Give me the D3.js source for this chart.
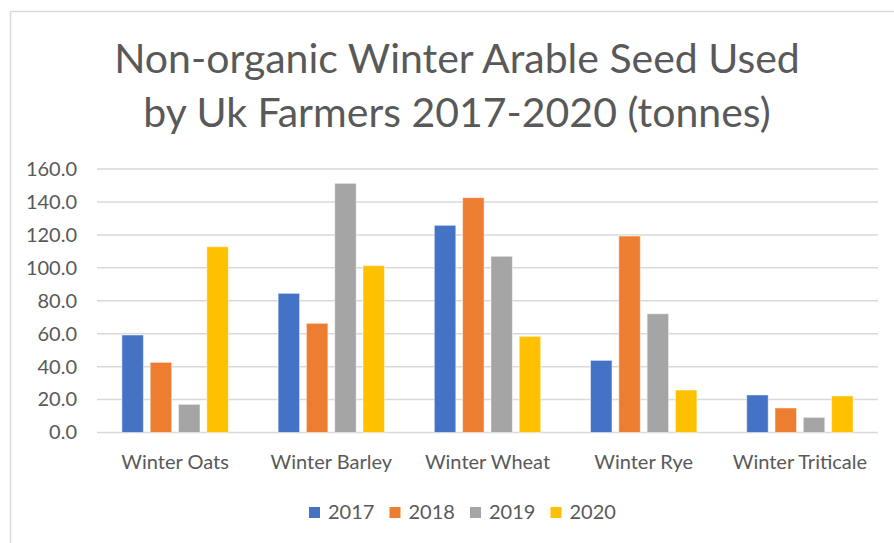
<!DOCTYPE html>
<html>
<head>
<meta charset="utf-8">
<script src="https://cdn.jsdelivr.net/npm/d3@7"></script>
<style>
  body { margin: 0; background: #fff; }
  svg { display: block; font-family: Lato, "Open Sans", sans-serif; }
</style>
</head>
<body>
<svg id="chart"></svg>
<script>
// ---------------------- data ---------------------------
const categories = ["Winter Oats", "Winter Barley", "Winter Wheat", "Winter Rye", "Winter Triticale"];
const years = ["2017", "2018", "2019", "2020"];
const values2017 = [59.2, 84.5, 125.8, 43.8, 22.8];
const values2018 = [42.6, 66.3, 142.6, 119.3, 14.9];
const values2019 = [17.1, 151.3, 107.0, 72.1, 9.2];
const values2020 = [112.8, 101.3, 58.4, 25.8, 22.2];
const yTicks = [0, 20, 40, 60, 80, 100, 120, 140, 160];
const titleLines = ["Non-organic Winter Arable Seed Used", "by Uk Farmers 2017-2020 (tonnes)"];

const series = [values2017, values2018, values2019, values2020];
const colors = ["#4472C4", "#ED7D31", "#A5A5A5", "#FFC000"];

// ---------------------- layout ---------------------------
const width = 894;
const height = 543;
const plotLeft = 97;
const plotRight = 878;
const plotTop = 169;
const plotBottom = 432.5;
const textColor = "#595959";

const svg = d3.select("#chart")
  .attr("width", width)
  .attr("height", height);

// chart frame (only top and left edges are visible in the picture)
svg.append("rect")
  .attr("x", 10.5)
  .attr("y", 11.5)
  .attr("width", width + 20)
  .attr("height", height + 20)
  .attr("fill", "none")
  .attr("stroke", "#d9d9d9")
  .attr("stroke-width", 1.5);

// title
svg.append("g")
  .selectAll("text")
  .data(titleLines)
  .join("text")
  .attr("x", 457)
  .attr("y", (d, i) => 73 + i * 54)
  .attr("text-anchor", "middle")
  .attr("fill", textColor)
  .style("font-size", "41px")
  .text(d => d);

// scales
const x0 = d3.scaleBand()
  .domain(categories)
  .range([plotLeft, plotRight]);

const x1 = d3.scaleBand()
  .domain(years)
  .range([0, x0.bandwidth()])
  .paddingInner(0.24)
  .paddingOuter(0.88);

const y = d3.scaleLinear()
  .domain([0, 160])
  .range([plotBottom, plotTop]);

// gridlines
svg.append("g")
  .selectAll("line")
  .data(yTicks)
  .join("line")
  .attr("x1", plotLeft)
  .attr("x2", plotRight)
  .attr("y1", d => y(d))
  .attr("y2", d => y(d))
  .attr("stroke", "#d9d9d9")
  .attr("stroke-width", 1.5);

// y axis labels
const yAxis = svg.append("g")
  .attr("transform", "translate(" + (plotLeft - 20) + ",0)")
  .call(d3.axisLeft(y).tickValues(yTicks).tickFormat(d3.format(".1f")).tickSize(0).tickPadding(0));
yAxis.select(".domain").remove();
yAxis.selectAll("text")
  .attr("fill", textColor)
  .style("font-family", "Lato, sans-serif")
  .style("font-size", "20px");

// bars
const groups = svg.append("g")
  .selectAll("g")
  .data(categories)
  .join("g")
  .attr("transform", d => "translate(" + x0(d) + ",0)");

groups.selectAll("rect")
  .data((c, ci) => years.map((yr, si) => ({ year: yr, value: series[si][ci], color: colors[si] })))
  .join("rect")
  .attr("x", d => x1(d.year))
  .attr("y", d => y(d.value))
  .attr("width", x1.bandwidth())
  .attr("height", d => y(0) - y(d.value))
  .attr("fill", d => d.color)
  .attr("stroke", "#fff")
  .attr("stroke-opacity", 0.5)
  .attr("stroke-width", 1);

// category labels
const xAxis = svg.append("g")
  .attr("transform", "translate(0," + (plotBottom + 21) + ")")
  .call(d3.axisBottom(x0).tickSize(0).tickPadding(0));
xAxis.select(".domain").remove();
xAxis.selectAll("text")
  .attr("fill", textColor)
  .attr("dy", "0.75em")
  .style("font-family", "Lato, sans-serif")
  .style("font-size", "20px");

// legend
const legend = svg.append("g")
  .selectAll("g")
  .data(years)
  .join("g")
  .attr("transform", (d, i) => "translate(" + (309 + i * 80.5) + ",507)");

legend.append("rect")
  .attr("width", 11)
  .attr("height", 11)
  .attr("fill", (d, i) => colors[i]);

legend.append("text")
  .attr("x", 19)
  .attr("y", 11.5)
  .attr("fill", textColor)
  .style("font-size", "20px")
  .text(d => d);
</script>
</body>
</html>
